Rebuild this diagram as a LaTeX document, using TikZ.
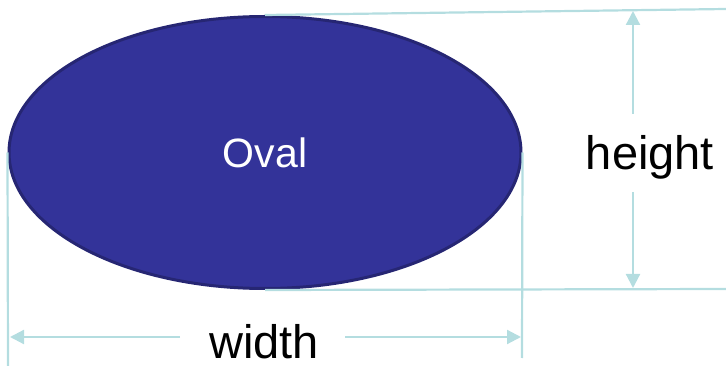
\documentclass[tikz,border=0pt]{standalone}
\usepackage{fontspec}
\setmainfont{Liberation Sans}
\usetikzlibrary{shapes.geometric,arrows.meta}
\definecolor{ovalfill}{HTML}{333399}
\definecolor{ovalline}{HTML}{262673}
\definecolor{dimline}{HTML}{B4DDE0}
\begin{document}
\begin{tikzpicture}[x=1pt,y=-1pt,
                    dim/.style={draw=dimline,line width=2.2pt},
                    dimarrow/.style={dim,-{Triangle[width=14pt,length=14pt]}},
                    label/.style={font=\fontsize{47}{50}\selectfont,inner sep=0pt}]
  \useasboundingbox (0,0) rectangle (726,366);

  \node[ellipse,fill=ovalfill,draw=ovalline,line width=3pt,inner sep=0pt,
        minimum width=512pt,minimum height=272pt,text=white,
        font=\fontsize{41}{45}\selectfont] (O) at (265,152.5) {Oval};

  \coordinate (TR) at (726,9);
  \coordinate (BR) at (726,289);
  \coordinate (BL) at (8,366);
  \coordinate (BM) at (522,358);

  \path (O.north) edge[dim] (TR)
        (O.south) edge[dim] (BR)
        (O.west)  edge[dim] (BL)
        (O.east)  edge[dim] (BM);

  \node[label] (H) at (650,157) {height};
  \node[label] (W) at (264,342) {width};

  \coordinate (Ht) at (633,11);
  \coordinate (Hu) at (633,114);
  \coordinate (Hd) at (633,192);
  \coordinate (Hb) at (633,288);
  \coordinate (Wl) at (10,337);
  \coordinate (Wa) at (180,337);
  \coordinate (Wb) at (345,337);
  \coordinate (Wr) at (521,337);

  \path (Hu) edge[dimarrow] (Ht)
        (Hd) edge[dimarrow] (Hb)
        (Wa) edge[dimarrow] (Wl)
        (Wb) edge[dimarrow] (Wr);
\end{tikzpicture}
\end{document}
